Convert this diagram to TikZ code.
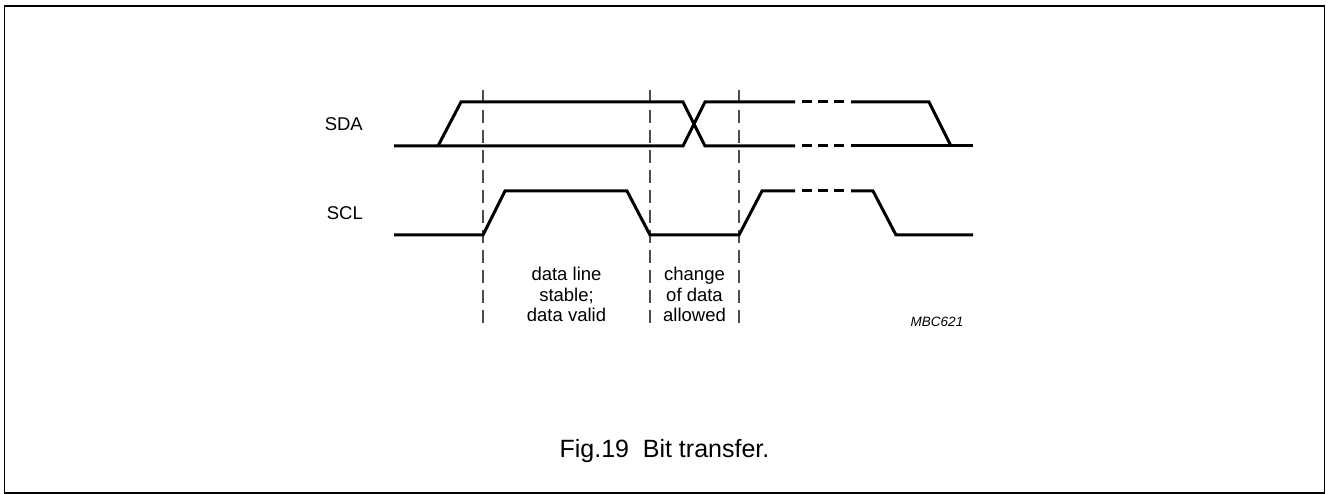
\documentclass[tikz,border=0pt]{standalone}
\usepackage{fontspec}
\setmainfont{Liberation Sans}
\begin{document}
\begin{tikzpicture}[x=1pt,y=-1pt,
  wave/.style={line width=3pt,line join=miter,line cap=butt},
  guide/.style={line width=1.5pt,black!70,dash pattern=on 13pt off 7pt},
  frame/.style={line width=1.8pt},
  lbl/.style={font=\fontsize{18.5}{20.5}\selectfont,anchor=base,inner sep=0pt},
  figcap/.style={font=\fontsize{25}{28}\selectfont,anchor=base,inner sep=0pt},
  code/.style={font=\fontsize{13.5}{15}\selectfont\itshape,anchor=base,inner sep=0pt}]
\useasboundingbox (0,0) rectangle (1326,494);
\draw[frame] (4.5,6) rectangle (1324.5,493);
% guide lines
\draw[guide] (483,90) -- (483,330);
\draw[guide] (650,90) -- (650,330);
\draw[guide] (739,90) -- (739,330);
% SDA bus
\draw[wave] (394,146) -- (683,146) -- (705,102) -- (795,102);
\draw[wave] (438,146) -- (461,102) -- (683,102) -- (705,146) -- (795,146);
\foreach \a/\b in {802/812,818/828,834/844}{
  \draw[wave] (\a,102) -- (\b,102);
  \draw[wave] (\a,146) -- (\b,146);
  \draw[wave] (\a,191) -- (\b,191);
}
\draw[wave] (851,102) -- (929,102) -- (951,146);
\draw[wave] (851,146) -- (973,146);
% SCL
\draw[wave] (394,235) -- (483,235) -- (505,191) -- (627,191) -- (650,235) -- (739,235) -- (762,191) -- (795,191);
\draw[wave] (851,191) -- (873,191) -- (896,235) -- (973,235);
% labels
\node[lbl,anchor=base east] (sda) at (363,130.5) {SDA};
\node[lbl,anchor=base east] (scl) at (363,219.5) {SCL};
\node[lbl] (t1) at (566.5,281) {data line};
\node[lbl] (t2) at (566.5,301.5) {stable;};
\node[lbl] (t3) at (566.5,322) {data valid};
\node[lbl] (t4) at (694.5,281) {change};
\node[lbl] (t5) at (694.5,301.5) {of data};
\node[lbl] (t6) at (694.5,322) {allowed};
\node[code] (mbc) at (937,327) {MBC621};
\node[figcap] (fig) at (664.5,457) {Fig.19\hspace{0.55em}Bit transfer.};
\end{tikzpicture}
\end{document}
